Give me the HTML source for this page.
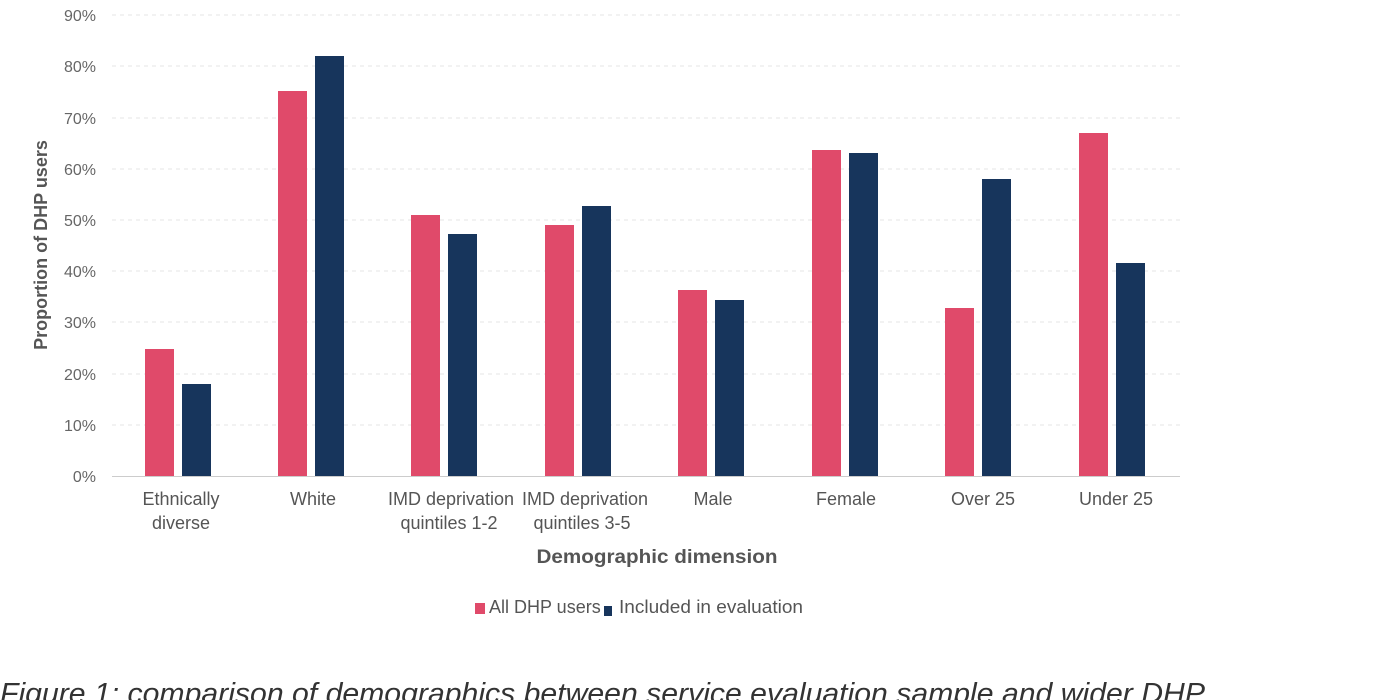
<!DOCTYPE html>
<html><head><style>body{margin:0;background:#fff}svg{display:block}</style></head><body>
<svg width="1400" height="700" xmlns="http://www.w3.org/2000/svg" font-family="Liberation Sans, sans-serif">
<g stroke="#e6e6e6" stroke-dasharray="4,4" stroke-width="1">
<line x1="112" x2="1180" y1="15" y2="15"/><line x1="112" x2="1180" y1="66" y2="66"/><line x1="112" x2="1180" y1="118" y2="118"/><line x1="112" x2="1180" y1="169" y2="169"/><line x1="112" x2="1180" y1="220" y2="220"/><line x1="112" x2="1180" y1="271" y2="271"/><line x1="112" x2="1180" y1="322" y2="322"/><line x1="112" x2="1180" y1="374" y2="374"/><line x1="112" x2="1180" y1="425" y2="425"/>
</g>
<line x1="112" x2="1180" y1="476.5" y2="476.5" stroke="#ccc"/>
<g font-size="16" fill="#666" text-anchor="end">
<text x="96" y="21">90%</text><text x="96" y="72">80%</text><text x="96" y="124">70%</text><text x="96" y="175">60%</text><text x="96" y="226">50%</text><text x="96" y="277">40%</text><text x="96" y="328">30%</text><text x="96" y="380">20%</text><text x="96" y="431">10%</text><text x="96" y="482">0%</text>
</g>
<g fill="#e04a6a">
<rect x="145" y="349" width="29" height="127"/><rect x="278" y="91" width="29" height="385"/><rect x="411" y="215" width="29" height="261"/><rect x="545" y="225" width="29" height="251"/><rect x="678" y="290" width="29" height="186"/><rect x="812" y="150" width="29" height="326"/><rect x="945" y="308" width="29" height="168"/><rect x="1079" y="133" width="29" height="343"/>
</g>
<g fill="#17355c">
<rect x="182" y="384" width="29" height="92"/><rect x="315" y="56" width="29" height="420"/><rect x="448" y="234" width="29" height="242"/><rect x="582" y="206" width="29" height="270"/><rect x="715" y="300" width="29" height="176"/><rect x="849" y="153" width="29" height="323"/><rect x="982" y="179" width="29" height="297"/><rect x="1116" y="263" width="29" height="213"/>
</g>
<g font-size="18" fill="#555" text-anchor="middle">
<text x="181" y="505">Ethnically</text><text x="181" y="529">diverse</text>
<text x="313" y="505">White</text>
<text x="451" y="505">IMD deprivation</text><text x="449" y="529">quintiles 1-2</text>
<text x="585" y="505">IMD deprivation</text><text x="582" y="529">quintiles 3-5</text>
<text x="713" y="505">Male</text>
<text x="846" y="505">Female</text>
<text x="983" y="505">Over 25</text>
<text x="1116" y="505">Under 25</text>
</g>
<text x="657" y="563" font-size="19" font-weight="bold" fill="#555" text-anchor="middle" textLength="241" lengthAdjust="spacingAndGlyphs">Demographic dimension</text>
<text transform="translate(47,245) rotate(-90)" font-size="18" font-weight="bold" fill="#555" text-anchor="middle">Proportion of DHP users</text>
<rect x="475" y="603" width="10" height="11" fill="#e04a6a"/>
<text x="489" y="613" font-size="18" fill="#555">All DHP users</text>
<rect x="604" y="606" width="8" height="10" fill="#17355c"/>
<text x="619" y="613" font-size="18" fill="#555" textLength="184" lengthAdjust="spacingAndGlyphs">Included in evaluation</text>
<text x="0" y="703" font-size="29" font-style="italic" fill="#333" textLength="1205" lengthAdjust="spacingAndGlyphs">Figure 1: comparison of demographics between service evaluation sample and wider DHP</text>
</svg>
</body></html>
